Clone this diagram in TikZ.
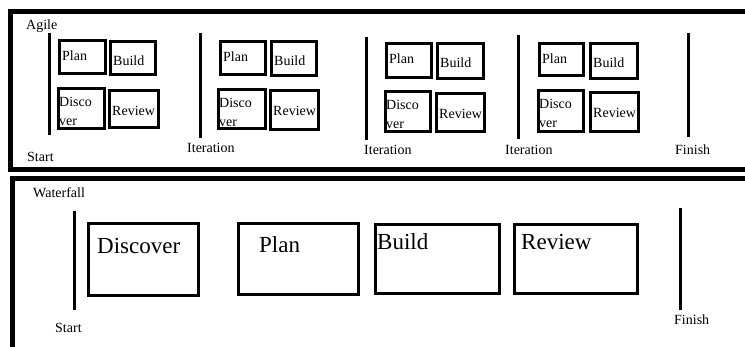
\documentclass[tikz,border=0pt]{standalone}
\usepackage{fontspec}
\setmainfont{Liberation Serif}
\usetikzlibrary{calc}

\tikzset{
  frame/.style={line width=5pt, line join=miter},
  tick/.style={line width=3pt},
  box/.style={draw, rectangle, line width=3pt, inner sep=0pt},
  small/.style={font=\fontsize{14}{17}\selectfont, inner sep=0pt, anchor=base west},
  big/.style={font=\fontsize{23}{27}\selectfont, inner sep=0pt, anchor=base west},
}

% box from outer corner (x1,y1) to outer corner (x2,y2)
\newcommand\mkbox[5]{%
  \node[box, minimum width={(#4-#2-3)*1pt}, minimum height={(#5-#3-3)*1pt}]
    (#1) at ({(#2+#4)/2},{(#3+#5)/2}) {};}

\begin{document}
\begin{tikzpicture}[x=1pt, y=-1pt]
\useasboundingbox (0,0) rectangle (745,347);
\clip (0,0) rectangle (745,347);

% ---------- Agile panel ----------
\draw[frame] (760,12) -- (10.5,12) -- (10.5,169.5) -- (760,169.5);
\node[small] (agile) at (26,30) {Agile};

\foreach \g/\xa/\ya/\xb/\yb in {1/58/39/107/75, 2/219/40/267/76, 3/385/42/433/79, 4/538/42/585/77}{
  \mkbox{plan\g}{\xa}{\ya}{\xb}{\yb}
  \node[small] (plantxt\g) at ([shift={(4pt,-22pt)}]plan\g.north west) {Plan};
}
\foreach \g/\xa/\ya/\xb/\yb in {1/109/40/157/76, 2/270/40/318/77, 3/436/42/485/80, 4/589/42/639/80}{
  \mkbox{build\g}{\xa}{\ya}{\xb}{\yb}
  \node[small] (buildtxt\g) at ([shift={(4pt,-26pt)}]build\g.north west) {Build};
}
\foreach \g/\xa/\ya/\xb/\yb in {1/57/87/106/130, 2/217/88/267/130, 3/384/90/432/133, 4/537/89/585/133}{
  \mkbox{disc\g}{\xa}{\ya}{\xb}{\yb}
  \node[small] (disctxt\g) at ([shift={(2pt,-20pt)}]disc\g.north west) {Disco};
  \node[small] (disctxtb\g) at ([shift={(2pt,-39pt)}]disc\g.north west) {ver};
}
\foreach \g/\xa/\ya/\xb/\yb in {1/108/89/160/129, 2/269/89/320/131, 3/435/92/486/133, 4/589/91/640/133}{
  \mkbox{rev\g}{\xa}{\ya}{\xb}{\yb}
  \node[small] (revtxt\g) at ([shift={(4pt,-27pt)}]rev\g.north west) {Review};
}

% milestone bars
\coordinate (as1) at (49.5,33);  \coordinate (as2) at (49.5,135);
\coordinate (ai1a) at (200,33);  \coordinate (ai1b) at (200,138);
\coordinate (ai2a) at (366,37);  \coordinate (ai2b) at (366,140);
\coordinate (ai3a) at (518.5,35); \coordinate (ai3b) at (518.5,139);
\coordinate (af1) at (688,33);   \coordinate (af2) at (688,137);
\draw[tick] (as1) -- (as2);
\draw[tick] (ai1a) -- (ai1b);
\draw[tick] (ai2a) -- (ai2b);
\draw[tick] (ai3a) -- (ai3b);
\draw[tick] (af1) -- (af2);

\node[small] (astart) at (27,162) {Start};
\node[small] (aiter1) at (187,153) {Iteration};
\node[small] (aiter2) at (364,155) {Iteration};
\node[small] (aiter3) at (505,155) {Iteration};
\node[small] (afinish) at (675,155) {Finish};

% ---------- Waterfall panel ----------
\draw[frame] (760,178.5) -- (12,178.5) -- (12,360);
\node[small] (waterfall) at (33,198) {Waterfall};

\mkbox{wdisc}{87}{222}{200}{297}
\mkbox{wplan}{237}{222}{360}{296}
\mkbox{wbuild}{374}{223}{501}{295}
\mkbox{wrev}{513}{223}{639}{295}
\node[big] (wdisctxt) at ([shift={(10pt,-32pt)}]wdisc.north west) {Discover};
\node[big] (wplantxt) at ([shift={(22pt,-31pt)}]wplan.north west) {Plan};
\node[big] (wbuildtxt) at ([shift={(3pt,-27pt)}]wbuild.north west) {Build};
\node[big] (wrevtxt) at ([shift={(8pt,-27pt)}]wrev.north west) {Review};

\coordinate (ws1) at (74,211);  \coordinate (ws2) at (74,310);
\coordinate (wf1) at (680,208); \coordinate (wf2) at (680,310);
\draw[tick] (ws1) -- (ws2);
\draw[tick] (wf1) -- (wf2);
\node[small] (wstart) at (55,333) {Start};
\node[small] (wfinish) at (674,325) {Finish};
\end{tikzpicture}
\end{document}
